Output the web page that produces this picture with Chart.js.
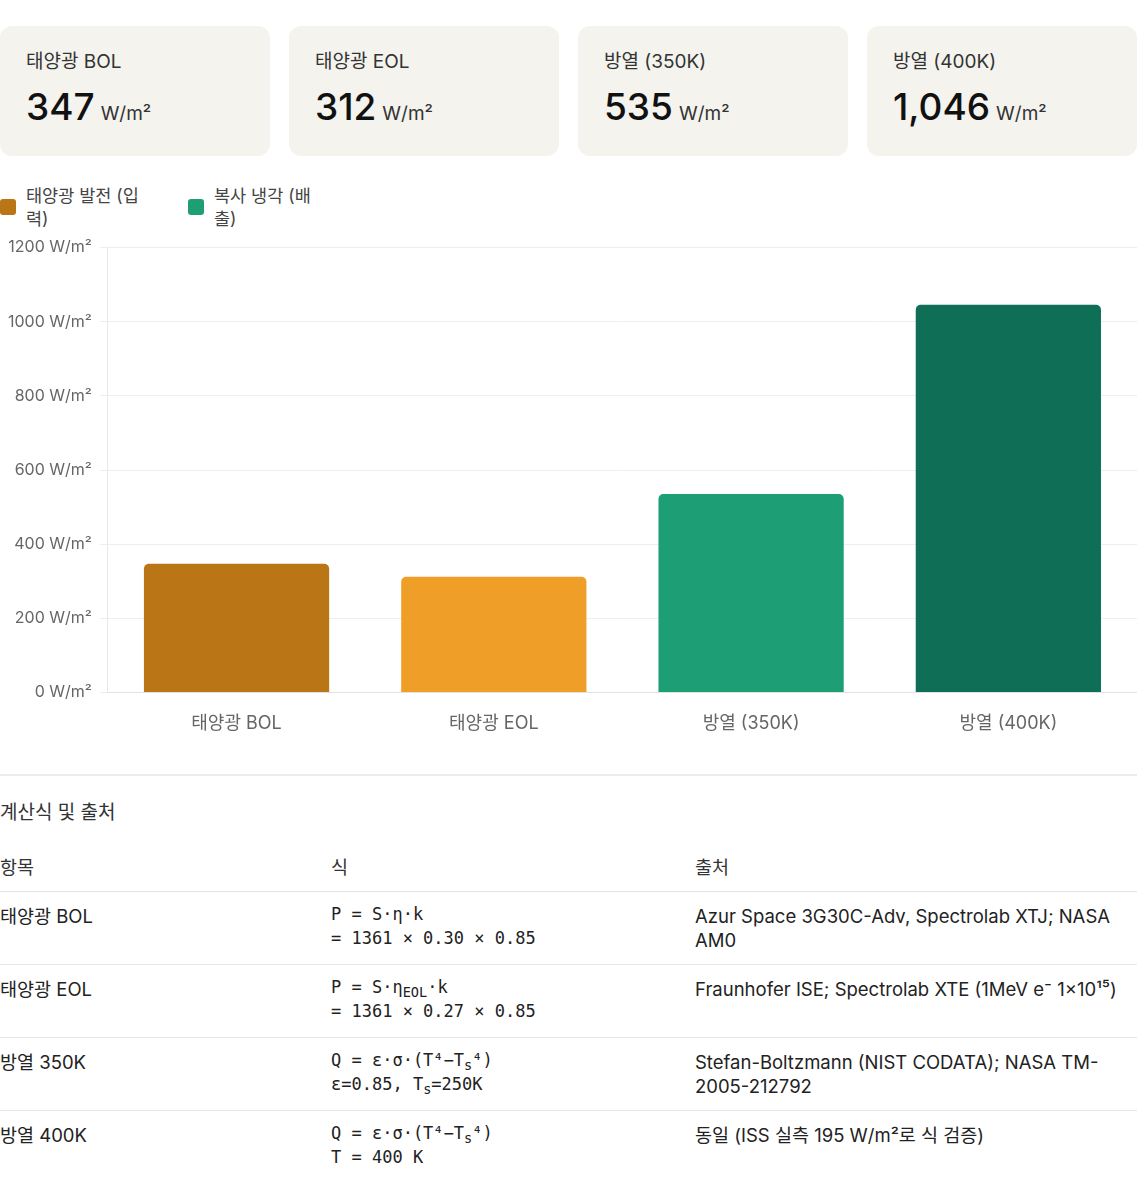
<!DOCTYPE html>
<html lang="ko">
<head>
<meta charset="utf-8">
<script src="https://cdn.jsdelivr.net/npm/chart.js@4.4.1/dist/chart.umd.min.js"></script>
<style>
  html, body { margin: 0; padding: 0; background: #fff; }
  body { width: 1137px; height: 1200px; position: relative; font-family: Inter, "Noto Sans CJK KR", sans-serif; color: #222; overflow: hidden; }
  #cards { position: absolute; top: 26px; left: 0; width: 1137px; display: grid; grid-template-columns: repeat(4, 1fr); column-gap: 19px; }
  .card { background: #F4F3EE; border-radius: 12px; height: 130px; box-sizing: border-box; padding: 24px 26px; }
  .card .lbl { font-size: 19px; color: #333; line-height: 24px; }
  .card .val { margin-top: 10px; font-size: 37px; font-weight: 500; color: #111; line-height: 46px; }
  .card .unit { font-size: 19px; font-weight: 400; color: #333; margin-left: 6px; }
  #legend { position: absolute; top: 184px; left: 0; display: flex; }
  .li { display: flex; align-items: center; width: 188px; }
  .sw { width: 16px; height: 16px; border-radius: 3px; flex: none; margin-right: 10px; }
  .lt { font-size: 17.5px; line-height: 23px; color: #444; width: 116px; }
  #chartwrap { position: absolute; top: 230px; left: 0; width: 1137px; height: 516px; }
  #sep { position: absolute; top: 774px; left: 0; width: 1137px; height: 2px; background: #ececec; }
  #title { position: absolute; top: 801px; left: 0; font-size: 19px; line-height: 24px; color: #333; }
  table { position: absolute; top: 843px; left: 0; width: 1137px; border-collapse: collapse; table-layout: fixed; }
  th, td { text-align: left; vertical-align: top; padding: 12px 0 12px 0; font-size: 18.5px; line-height: 24px; font-weight: 400; }
  th { color: #333; border-bottom: 1px solid #e3e3e3; }
  td { color: #222; border-bottom: 1px solid #e6e6e6; }
  tr:last-child td { border-bottom: none; }
  td.f { font-family: "DejaVu Sans Mono", monospace; font-size: 17px; line-height: 24px; padding-top: 10px; padding-bottom: 14px; }
  td.f sub { font-size: 0.8em; line-height: 0; vertical-align: -0.3em; }
</style>
</head>
<body>
<div id="cards"></div>
<div id="legend"></div>
<div id="chartwrap"><canvas id="c"></canvas></div>
<div id="sep"></div>
<div id="title">계산식 및 출처</div>
<table>
  <colgroup><col style="width:331px"><col style="width:364px"><col style="width:442px"></colgroup>
  <thead><tr><th>항목</th><th>식</th><th>출처</th></tr></thead>
  <tbody id="tb"></tbody>
</table>
<script>
// ---- data ----
const categories = ['태양광 BOL', '태양광 EOL', '방열 (350K)', '방열 (400K)'];
const values = [347, 312, 535, 1046];
const barColors = ['#BA7517', '#EF9F27', '#1D9E75', '#0F6E56'];
const cardLabels = ['태양광 BOL', '태양광 EOL', '방열 (350K)', '방열 (400K)'];
const cardValues = ['347', '312', '535', '1,046'];
const unit = 'W/m²';
const legendLabels = ['태양광 발전 (입력)', '복사 냉각 (배출)'];
const legendColors = ['#BA7517', '#1D9E75'];
const yTicks = [0, 200, 400, 600, 800, 1000, 1200];
const tableItems = ['태양광 BOL', '태양광 EOL', '방열 350K', '방열 400K'];
const tableFormulas = [
  'P = S·η·k<br>= 1361 × 0.30 × 0.85',
  'P = S·η<sub>EOL</sub>·k<br>= 1361 × 0.27 × 0.85',
  'Q = ε·σ·(T⁴−T<sub>s</sub>⁴)<br>ε=0.85, T<sub>s</sub>=250K',
  'Q = ε·σ·(T⁴−T<sub>s</sub>⁴)<br>T = 400 K'
];
const tableSources = [
  'Azur Space 3G30C-Adv, Spectrolab XTJ; NASA AM0',
  'Fraunhofer ISE; Spectrolab XTE (1MeV e⁻ 1×10¹⁵)',
  'Stefan-Boltzmann (NIST CODATA); NASA TM-2005-212792',
  '동일 (ISS 실측 195 W/m²로 식 검증)'
];

// ---- cards ----
const cardsEl = document.getElementById('cards');
cardLabels.forEach((l, i) => {
  const d = document.createElement('div');
  d.className = 'card';
  d.innerHTML = '<div class="lbl">' + l + '</div><div class="val">' + cardValues[i] + '<span class="unit">' + unit + '</span></div>';
  cardsEl.appendChild(d);
});
// ---- legend ----
const legEl = document.getElementById('legend');
legendLabels.forEach((l, i) => {
  const d = document.createElement('div');
  d.className = 'li';
  d.innerHTML = '<span class="sw" style="background:' + legendColors[i] + '"></span><span class="lt">' + l + '</span>';
  legEl.appendChild(d);
});
// ---- table ----
const tb = document.getElementById('tb');
tableItems.forEach((t, i) => {
  const tr = document.createElement('tr');
  tr.innerHTML = '<td>' + t + '</td><td class="f">' + tableFormulas[i] + '</td><td>' + tableSources[i] + '</td>';
  tb.appendChild(tr);
});

// ---- chart ----
Chart.defaults.font.family = 'Inter, "Noto Sans CJK KR", sans-serif';
new Chart(document.getElementById('c'), {
  type: 'bar',
  data: {
    labels: categories,
    datasets: [{
      data: values,
      backgroundColor: barColors,
      borderRadius: 5,
      borderSkipped: 'start'
    }]
  },
  options: {
    responsive: true,
    maintainAspectRatio: false,
    animation: false,
    layout: { padding: 0 },
    plugins: { legend: { display: false }, tooltip: { enabled: false } },
    scales: {
      x: {
        grid: { display: false },
        border: { color: '#e2e2e2' },
        ticks: { color: '#666', font: { size: 18 }, padding: 12 }
      },
      y: {
        min: 0, max: 1200,
        afterBuildTicks: (s) => { s.ticks = yTicks.map(v => ({ value: v })); },
        grid: { color: '#eeeeee' },
        border: { color: '#e8e8e8' },
        ticks: { color: '#666', font: { size: 16 }, padding: 8, callback: (v) => v + ' ' + unit }
      }
    }
  }
});
</script>
</body>
</html>
